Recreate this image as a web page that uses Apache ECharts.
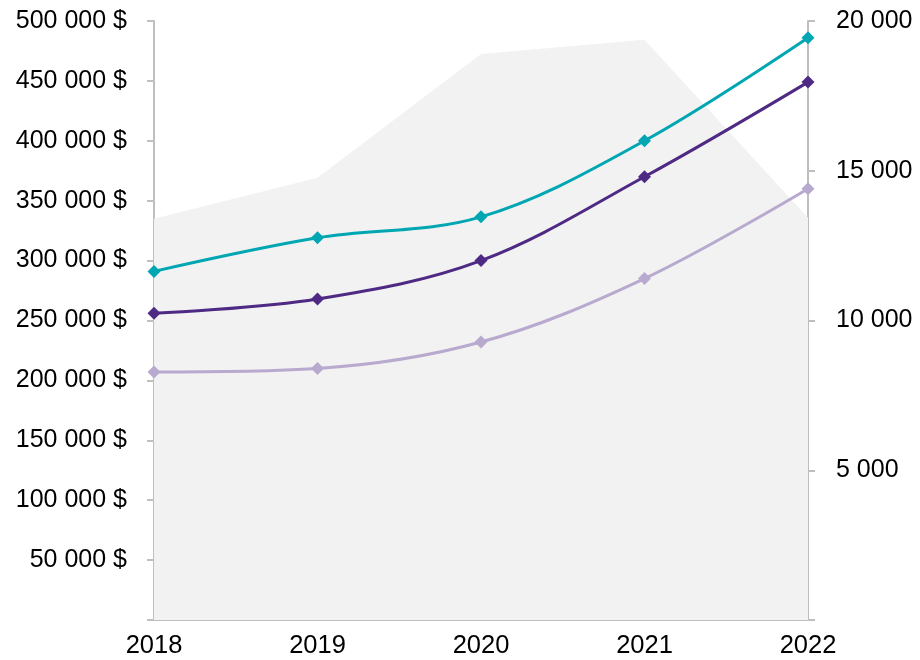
<!DOCTYPE html>
<html><head><meta charset="utf-8">
<script src="https://cdn.jsdelivr.net/npm/echarts@6/dist/echarts.min.js"></script>
<style>html,body{margin:0;padding:0;background:#fff}#c{width:920px;height:660px}</style>
</head><body><div id="c"></div>
<script>
const years = ['2018','2019','2020','2021','2022'];
const areaValues = [13400, 14770, 18900, 19370, 13430];
const tealValues = [291000, 319000, 336500, 400000, 486000];
const darkPurpleValues = [256000, 268000, 300000, 370000, 449000];
const lightPurpleValues = [207000, 210000, 232000, 285000, 360000];

function fmt(v){ return String(Math.round(v)).replace(/\B(?=(\d{3})+(?!\d))/g,' '); }

const chart = echarts.init(document.getElementById('c'), null, {renderer:'canvas'});
const fam = 'Liberation Sans, Arial, sans-serif';
function lineSeries(data, color){
  return {type:'line', yAxisIndex:0, data:data, smooth:0.35, symbol:'diamond', symbolSize:13,
    lineStyle:{color:color, width:3}, itemStyle:{color:color}, z:3};
}
chart.setOption({
  animation:false,
  grid:{left:154, right:112, top:21, bottom:40},
  xAxis:{type:'category', data:years, boundaryGap:false,
    axisLine:{lineStyle:{color:'#bfbfbf', width:2}},
    axisTick:{show:false},
    axisLabel:{margin:13, fontFamily:fam, fontSize:25.5, color:'#000'}},
  yAxis:[
    {type:'value', min:0, max:500000, interval:50000, position:'left',
     axisLine:{show:true, lineStyle:{color:'#bfbfbf', width:2}},
     axisTick:{show:true, length:7, lineStyle:{color:'#bfbfbf', width:2}},
     splitLine:{show:false},
     axisLabel:{margin:27, fontFamily:fam, fontSize:25, color:'#000', formatter:v=> v===0?'':fmt(v)+' $'}},
    {type:'value', min:0, max:20000, interval:5000, position:'right',
     axisLine:{show:true, lineStyle:{color:'#bfbfbf', width:2}},
     axisTick:{show:true, length:7, lineStyle:{color:'#bfbfbf', width:2}},
     splitLine:{show:false},
     axisLabel:{margin:28, fontFamily:fam, fontSize:25, color:'#000', formatter:v=> v===0?'':fmt(v)}}
  ],
  series:[
    {type:'line', yAxisIndex:1, data:areaValues, symbol:'none', lineStyle:{width:0},
     areaStyle:{color:'#f2f2f2', opacity:1}, z:1},
    lineSeries(tealValues, '#00a6b2'),
    lineSeries(darkPurpleValues, '#4e2a84'),
    lineSeries(lightPurpleValues, '#b8a9cf')
  ]
});
</script></body></html>
